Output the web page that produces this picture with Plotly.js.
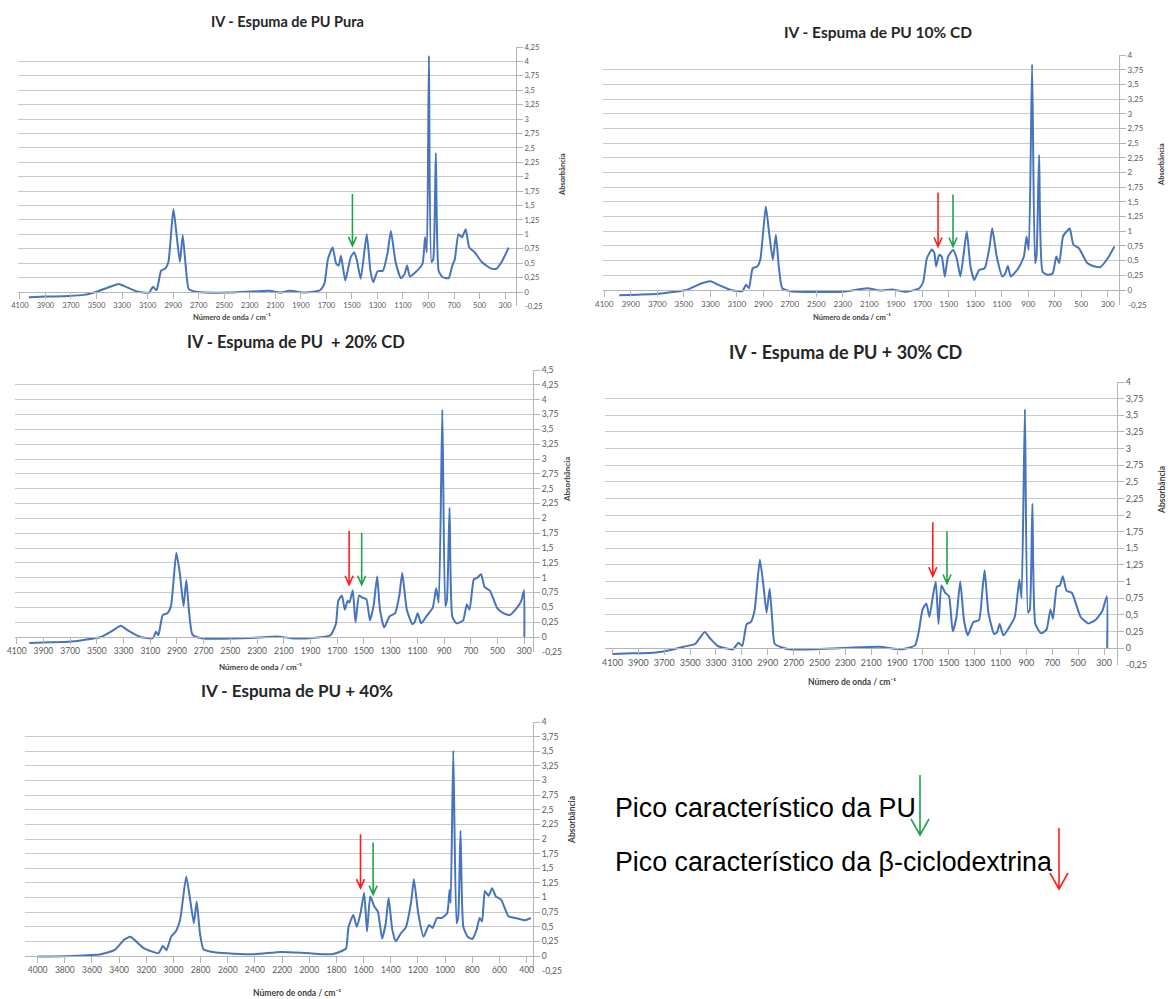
<!DOCTYPE html>
<html>
<head>
<meta charset="utf-8">
<script src="https://cdn.plot.ly/plotly-3.0.1.min.js"></script>
<style>
html,body{margin:0;padding:0;background:#ffffff;}
#chart{width:1168px;height:999px;}
</style>
</head>
<body>
<div id="chart"></div>
<script>
// ---------------- DATA ----------------
const titles = [
  'IV - Espuma de PU Pura',
  'IV - Espuma de PU 10% CD',
  'IV - Espuma de PU  + 20% CD',
  'IV - Espuma de PU + 30% CD',
  'IV - Espuma de PU + 40%'
];
const xAxisTitle = 'Número de onda / cm⁻¹';
const yAxisTitle = 'Absorbância';
const legendPU = 'Pico característico da PU';
const legendCD = 'Pico característico da β-ciclodextrina';

// x tick labels (wavenumber, cm-1)
const xTicks4100 = [4100,3900,3700,3500,3300,3100,2900,2700,2500,2300,2100,1900,1700,1500,1300,1100,900,700,500,300];
const xTicks4000 = [4000,3800,3600,3400,3200,3000,2800,2600,2400,2200,2000,1800,1600,1400,1200,1000,800,600,400];
// y tick labels (absorbance)
const yTicks425 = [0,0.25,0.5,0.75,1,1.25,1.5,1.75,2,2.25,2.5,2.75,3,3.25,3.5,3.75,4,4.25];
const yTicks400 = [0,0.25,0.5,0.75,1,1.25,1.5,1.75,2,2.25,2.5,2.75,3,3.25,3.5,3.75,4];
const yTicks450 = [0,0.25,0.5,0.75,1,1.25,1.5,1.75,2,2.25,2.5,2.75,3,3.25,3.5,3.75,4,4.25,4.5];

// PU pura
const wPura = [4030,3900,3720,3600,3495,3382,3326,3270,3185,3087,3058,3030,2994,2960,2937,2898,2875,2847,2825,2802,2777,2707,2453,2144,2060,1989,1862,1750,1716,1688,1651,1623,1603,1586,1552,1510,1482,1460,1431,1384,1355,1333,1299,1257,1220,1195,1158,1116,1088,1068,1046,989,947,927,913,897,877,863,843,821,792,742,714,694,666,638,609,581,539,483,413,370,328,272];
const aPura = [-0.09,-0.08,-0.07,-0.05,0.01,0.10,0.14,0.09,0.01,-0.01,0.09,0.03,0.37,0.41,0.52,1.44,1.03,0.52,0.99,0.46,0.05,0,-0.01,0.02,-0.01,0.02,-0.01,0.03,0.14,0.57,0.77,0.49,0.46,0.63,0.20,0.60,0.69,0.54,0.23,1.00,0.37,0.17,0.36,0.37,0.69,1.06,0.52,0.24,0.31,0.46,0.27,0.37,0.49,0.95,0.69,4.10,0.52,0.57,2.41,0.37,0.26,0.24,0.46,0.57,1.00,0.95,1.09,0.77,0.69,0.52,0.41,0.40,0.52,0.77];

// PU + 10% CD
const w10 = [3987,3850,3706,3600,3481,3368,3298,3241,3143,3058,3030,3008,2980,2946,2923,2881,2856,2828,2805,2783,2757,2693,2298,2115,2017,1932,1820,1721,1693,1665,1628,1609,1595,1572,1553,1530,1505,1468,1440,1412,1384,1364,1336,1308,1271,1229,1192,1172,1138,1096,1074,1054,1032,975,933,913,896,871,849,838,818,792,756,716,688,666,638,609,587,559,517,455,398,356,300,249];
const a10 = [-0.09,-0.08,-0.07,-0.04,0,0.11,0.15,0.09,0,-0.02,0.09,0.03,0.37,0.40,0.51,1.42,0.97,0.51,0.94,0.40,0.03,-0.02,-0.03,0.03,-0.01,0.01,-0.03,0.03,0.14,0.54,0.69,0.63,0.40,0.60,0.57,0.23,0.57,0.68,0.54,0.23,0.68,1.00,0.40,0.17,0.34,0.37,0.74,1.05,0.57,0.23,0.28,0.41,0.23,0.37,0.57,0.91,0.68,3.84,0.46,0.57,2.30,0.31,0.26,0.28,0.57,0.46,0.91,1.00,1.05,0.77,0.71,0.46,0.40,0.39,0.54,0.74];

// PU + 20% CD
const w20 = [4006,3850,3711,3600,3469,3388,3321,3268,3174,3080,3058,3039,3007,2972,2945,2905,2878,2851,2830,2811,2784,2717,2288,2153,2046,1912,1751,1710,1692,1665,1643,1622,1608,1584,1563,1536,1509,1482,1455,1428,1401,1380,1348,1308,1267,1235,1213,1179,1138,1120,1098,1071,1026,985,959,940,913,891,878,859,838,806,757,730,709,677,650,623,596,557,503,463,408,355,322,301,299];
const a20 = [-0.10,-0.09,-0.08,-0.05,0,0.10,0.19,0.11,0,-0.02,0.09,0.03,0.37,0.40,0.52,1.42,1.06,0.52,0.96,0.46,0.04,-0.02,-0.01,0.01,-0.02,-0.02,0.03,0.22,0.61,0.70,0.46,0.61,0.58,0.79,0.25,0.70,0.66,0.64,0.28,0.52,1.02,0.46,0.16,0.35,0.40,0.70,1.08,0.46,0.22,0.25,0.40,0.23,0.37,0.49,0.82,0.58,3.83,0.52,0.64,2.18,0.34,0.23,0.28,0.55,0.46,0.97,1.00,1.06,0.84,0.78,0.49,0.41,0.37,0.49,0.61,0.79,0];

// PU + 30% CD
const w30 = [4100,3950,3780,3650,3548,3461,3388,3344,3286,3170,3126,3097,3063,3031,3002,2961,2932,2909,2885,2865,2845,2734,2327,2037,1862,1761,1732,1703,1674,1650,1621,1601,1580,1557,1528,1499,1470,1441,1412,1383,1354,1310,1267,1238,1223,1194,1150,1127,1107,1078,1034,990,955,938,912,888,874,854,831,787,744,715,695,665,642,619,590,549,482,424,366,313,278,276];
const a30 = [-0.09,-0.08,-0.07,-0.03,0.02,0.06,0.24,0.14,0.03,-0.02,0.08,0.03,0.36,0.39,0.56,1.33,0.92,0.53,0.89,0.42,0.06,-0.02,0,0.02,-0.02,0.04,0.25,0.58,0.67,0.47,0.81,1.00,0.36,0.94,0.83,0.78,0.25,0.47,1.00,0.42,0.19,0.39,0.42,0.92,1.17,0.53,0.21,0.24,0.36,0.19,0.31,0.47,1.03,0.75,3.59,0.53,0.58,2.17,0.36,0.22,0.28,0.58,0.44,0.92,0.94,1.08,0.86,0.83,0.47,0.37,0.42,0.56,0.78,0];

// PU + 40%
const w40 = [4000,3748,3535,3429,3363,3317,3275,3216,3110,3078,3052,3017,2983,2951,2906,2877,2850,2829,2805,2778,2685,2420,2207,2021,1835,1756,1729,1711,1676,1650,1623,1596,1575,1551,1522,1495,1464,1437,1416,1389,1363,1325,1291,1251,1230,1198,1159,1118,1092,1060,1025,985,967,959,940,916,903,887,866,834,800,768,746,728,707,680,654,627,587,534,481,414,369];
const a40 = [-0.01,0,0.03,0.11,0.28,0.33,0.25,0.13,0.05,0.17,0.10,0.33,0.42,0.62,1.36,0.96,0.56,0.93,0.39,0.11,0.06,0.03,0.07,0.05,0.03,0.09,0.13,0.50,0.70,0.50,0.73,1.08,0.42,1.02,0.85,0.76,0.30,0.56,0.99,0.45,0.25,0.39,0.48,0.91,1.31,0.73,0.33,0.53,0.48,0.65,0.65,0.73,1.13,0.91,3.51,0.56,0.68,2.14,0.50,0.33,0.29,0.45,0.65,0.59,1.11,1.03,1.16,1.02,0.96,0.68,0.65,0.61,0.65];

// peak markers (arrow tips: wavenumber, absorbance)
const puPeakW = [1496, 1468, 1517, 1514, 1530];
const puPeakA = [0.80, 0.74, 0.88, 0.97, 1.05];
const cdPeakW = [null, 1581, 1611, 1624, 1623];
const cdPeakA = [null, 0.74, 0.88, 1.08, 1.16];

// ---------------- LAYOUT HELPERS ----------------
const W = 1168, H = 999;
const lineBlue = '#4674bd';
const gridGray = '#c9c9c9';
const axisGray = '#b5b5b5';
const tickGray = '#595959';
const green = '#1fa34a';
const red = '#ff1f1f';
const fontUI = 'Lato, "Open Sans", "DejaVu Sans", sans-serif';

const panels = [
  {w:wPura, a:aPura, xr:[4115,215], xt:xTicks4100, yt:yTicks425, box:{l:18,r:516,t:47,z:292}, tPos:[287,22], tSize:14.5, xtPos:[232,318], ytPos:[563,175], fs:7.5, ats:7.5},
  {w:w10, a:a10, xr:[4110,215], xt:xTicks4100, yt:yTicks400, box:{l:603,r:1119,t:55,z:290}, tPos:[878,32], tSize:15.5, xtPos:[852,317], ytPos:[1162,165], fs:8, ats:7.5},
  {w:w20, a:a20, xr:[4113,234], xt:xTicks4100, yt:yTicks450, box:{l:15,r:533,t:370,z:637}, tPos:[296,342], tSize:16.5, xtPos:[260,667], ytPos:[567,480], fs:8.5, ats:8},
  {w:w30, a:a30, xr:[4158,200], xt:xTicks4100, yt:yTicks400, box:{l:605,r:1117,t:382,z:648}, tPos:[845,352], tSize:18, xtPos:[852,682], ytPos:[1162,490], fs:9, ats:8.5},
  {w:w40, a:a40, xr:[4093,353], xt:xTicks4000, yt:yTicks400, box:{l:25,r:533,t:722,z:956}, tPos:[297,690], tSize:17, xtPos:[297,993], ytPos:[572,820], fs:8.5, ats:8.5}
];

const fmt = v => String(v).replace('.', ',');
const px = x => x / W;
const py = y => 1 - y / H;

const traces = [];
const layout = {
  width: W, height: H,
  margin: {l:0, r:0, t:0, b:0},
  paper_bgcolor: '#ffffff',
  plot_bgcolor: 'rgba(0,0,0,0)',
  showlegend: false,
  font: {family: fontUI, color: tickGray},
  annotations: [],
  shapes: []
};

function arrow(xref, yref, x, y, len, hw, hh, color, width) {
  return {
    type: 'path', xref: xref, yref: yref,
    xsizemode: 'pixel', ysizemode: 'pixel', xanchor: x, yanchor: y,
    path: 'M0,' + len + ' L0,0 M' + (-hw) + ',' + hh + ' L0,0 L' + hw + ',' + hh,
    line: {color: color, width: width}
  };
}

panels.forEach((p, i) => {
  const n = i === 0 ? '' : String(i + 1);
  const ymax = p.yt[p.yt.length - 1];
  const step = (p.box.z - p.box.t) / ymax;
  const bottom = p.box.z + 0.25 * step;
  const yDom = [py(bottom), py(p.box.t)];
  const zeroPos = py(p.box.z);

  traces.push({
    type: 'scatter', mode: 'lines',
    x: p.w, y: p.a,
    xaxis: 'x' + n, yaxis: 'y' + n,
    line: {color: lineBlue, width: 2, shape: 'spline', smoothing: 0.5},
    hoverinfo: 'skip'
  });

  layout['xaxis' + n] = {
    domain: [px(p.box.l), px(p.box.r)],
    range: p.xr,
    anchor: 'free', position: zeroPos,
    tickmode: 'array', tickvals: p.xt, ticktext: p.xt.map(fmt),
    tickfont: {size: p.fs, color: tickGray, family: fontUI},
    ticks: 'outside', ticklen: 6, tickcolor: axisGray,
    showline: true, linecolor: axisGray, linewidth: 1,
    showgrid: false, zeroline: false, fixedrange: true
  };
  layout['yaxis' + n] = {
    domain: yDom,
    range: [-0.25, ymax],
    anchor: 'x' + n, side: 'right',
    tickmode: 'array', tickvals: p.yt, ticktext: p.yt.map(fmt),
    tickfont: {size: p.fs, color: tickGray, family: fontUI},
    ticks: 'outside', ticklen: 6, tickcolor: axisGray,
    showline: true, linecolor: axisGray, linewidth: 1,
    showgrid: true, gridcolor: gridGray, gridwidth: 1,
    zeroline: false, fixedrange: true
  };

  // the lowest y tick label (-0,25), drawn without a gridline as in the reference
  layout.annotations.push({
    text: fmt(-0.25), xref: 'x' + n + ' domain', x: 1, xanchor: 'left', xshift: 7,
    yref: 'y' + n, y: -0.25, yanchor: 'middle', showarrow: false,
    font: {size: p.fs, color: tickGray, family: fontUI}
  });
  // panel title
  layout.annotations.push({
    text: '<b>' + titles[i] + '</b>', xref: 'paper', yref: 'paper',
    x: px(p.tPos[0]), y: py(p.tPos[1]), xanchor: 'center', yanchor: 'middle',
    showarrow: false, font: {size: p.tSize, color: '#262626', family: fontUI}
  });
  // x axis title
  layout.annotations.push({
    text: '<b>' + xAxisTitle + '</b>', xref: 'paper', yref: 'paper',
    x: px(p.xtPos[0]), y: py(p.xtPos[1]), xanchor: 'center', yanchor: 'middle',
    showarrow: false, font: {size: p.ats, color: '#404040', family: fontUI}
  });
  // y axis title
  layout.annotations.push({
    text: '<b>' + yAxisTitle + '</b>', xref: 'paper', yref: 'paper', textangle: -90,
    x: px(p.ytPos[0]), y: py(p.ytPos[1]), xanchor: 'center', yanchor: 'middle',
    showarrow: false, font: {size: p.ats, color: '#404040', family: fontUI}
  });

  // peak arrows
  if (cdPeakW[i] !== null) {
    layout.shapes.push(arrow('x' + n, 'y' + n, cdPeakW[i], cdPeakA[i], 54, 4, 9, red, 1.6));
  }
  layout.shapes.push(arrow('x' + n, 'y' + n, puPeakW[i], puPeakA[i], 52, 4, 9, green, 1.6));
});

// legend text and arrows (bottom right)
layout.annotations.push({
  text: legendPU, xref: 'paper', yref: 'paper', x: px(613), y: py(808),
  xanchor: 'left', yanchor: 'middle', showarrow: false,
  font: {size: 26.8, color: '#000000', family: '"Liberation Sans", Arial, sans-serif'}
});
layout.annotations.push({
  text: legendCD, xref: 'paper', yref: 'paper', x: px(613), y: py(862),
  xanchor: 'left', yanchor: 'middle', showarrow: false,
  font: {size: 26.8, color: '#000000', family: '"Liberation Sans", Arial, sans-serif'}
});
layout.shapes.push(arrow('paper', 'paper', px(920), py(835), 60, 9, 16, green, 1.6));
layout.shapes.push(arrow('paper', 'paper', px(1059), py(889), 61, 9, 16, red, 1.6));

Plotly.newPlot('chart', traces, layout, {staticPlot: true, displayModeBar: false});
</script>
</body>
</html>
